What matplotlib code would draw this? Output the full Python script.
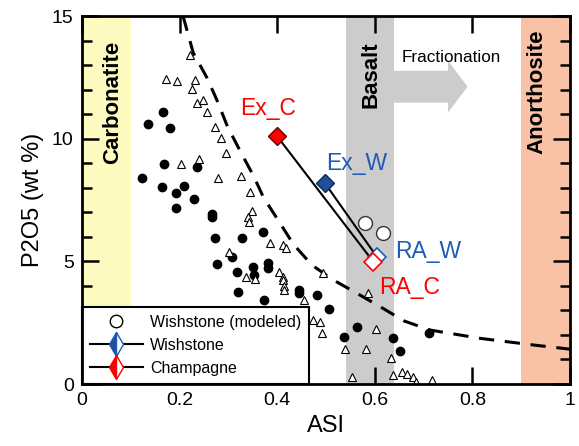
import numpy as np
import matplotlib
matplotlib.use('Agg')
from matplotlib import pyplot as plt
from matplotlib.lines import Line2D
import matplotlib.patches as mpatches

plt.rcParams['font.family'] = ['Liberation Sans', 'DejaVu Sans']

# literature data: filled dots and open triangles
dots_x = [0.167, 0.135, 0.180, 0.169, 0.236, 0.122, 0.163, 0.210, 0.192, 0.230,
          0.192, 0.267, 0.267, 0.273, 0.328, 0.370, 0.277, 0.307, 0.318, 0.351,
          0.353, 0.382, 0.382, 0.320, 0.372, 0.445, 0.445, 0.481, 0.506, 0.564,
          0.536, 0.638, 0.652, 0.710]
dots_y = [11.10, 10.58, 10.42, 8.97, 8.86, 8.40, 8.02, 8.07, 7.77, 7.53,
          7.19, 6.95, 6.80, 5.96, 5.94, 6.18, 4.89, 5.19, 4.58, 4.77,
          4.44, 4.92, 4.72, 3.76, 3.43, 3.83, 3.70, 3.63, 3.06, 2.32,
          1.90, 1.88, 1.33, 2.09]

tri_x = [0.221, 0.172, 0.194, 0.232, 0.226, 0.235, 0.247, 0.257, 0.273, 0.284,
         0.295, 0.203, 0.240, 0.278, 0.326, 0.344, 0.348, 0.341, 0.343, 0.302,
         0.385, 0.412, 0.419, 0.337, 0.354, 0.404, 0.412, 0.411, 0.414, 0.414,
         0.493, 0.455, 0.474, 0.488, 0.491, 0.587, 0.602, 0.539, 0.582, 0.633,
         0.553, 0.638, 0.656, 0.665, 0.679, 0.684, 0.717]
tri_y = [13.41, 12.43, 12.35, 12.39, 12.03, 11.47, 11.58, 11.10, 10.46, 10.04,
         9.40, 8.97, 9.16, 8.41, 8.48, 7.84, 7.04, 6.82, 6.62, 5.39,
         5.73, 5.67, 5.53, 4.37, 4.30, 4.58, 4.37, 4.22, 4.00, 3.83,
         4.51, 3.42, 2.61, 2.54, 2.06, 3.70, 2.24, 1.41, 1.43, 1.08,
         0.28, 0.37, 0.48, 0.40, 0.30, 0.07, 0.16]

# saturation curve (dashed)
curve_x = [0.207, 0.228, 0.257, 0.278, 0.298, 0.324, 0.351, 0.372, 0.406, 0.433,
           0.471, 0.515, 0.563, 0.611, 0.660, 0.713, 0.816, 0.925, 1.0]
curve_y = [15.0, 13.5, 12.45, 11.5, 10.5, 9.5, 8.5, 7.6, 6.55, 5.7,
           4.85, 4.24, 3.7, 3.15, 2.57, 2.2, 1.86, 1.59, 1.42]

# Wishstone (modeled)
model_x = [0.580, 0.617]
model_y = [6.58, 6.17]

# Ex -> RA pairs
wish_x = [0.498, 0.605]
wish_y = [8.18, 5.16]
champ_x = [0.399, 0.597]
champ_y = [10.12, 4.98]

blue = '#1d5cb4'
dblue = '#1f4e9c'
red = '#ff0000'

fig = plt.figure(figsize=(5.79, 4.46), dpi=100)
ax = fig.add_axes([0.1416, 0.139, 0.843, 0.825])

# composition bands
ax.axvspan(0.0, 0.1, color='#fdfbc0', lw=0, zorder=0)
ax.axvspan(0.54, 0.64, color='#cccccc', lw=0, zorder=0)
ax.axvspan(0.9, 1.0, color='#f9c1a6', lw=0, zorder=0)
ax.add_patch(mpatches.FancyArrow(0.62, 12.12, 0.17, 0, width=1.3, head_width=2.1,
                                 head_length=0.04, length_includes_head=True,
                                 color='#cccccc', lw=0, zorder=0))

ax.text(0.062, 11.5, 'Carbonatite', rotation=90, ha='center', va='center',
        fontsize=16, fontweight='bold')
ax.text(0.592, 12.6, 'Basalt', rotation=90, ha='center', va='center',
        fontsize=16, fontweight='bold')
ax.text(0.933, 11.9, 'Anorthosite', rotation=90, ha='center', va='center',
        fontsize=16, fontweight='bold')
ax.text(0.655, 13.31, 'Fractionation', ha='left', va='center', fontsize=12.3)

ax.plot(curve_x, curve_y, color='black', lw=2.2, ls=(0, (5, 3.5)), zorder=2)

ax.plot(dots_x, dots_y, ls='none', marker='o', ms=6, mfc='black', mec='black', zorder=3)
ax.plot(tri_x, tri_y, ls='none', marker='^', ms=5.5, mfc='white', mec='black',
        mew=0.8, zorder=3)

ax.plot(model_x, model_y, ls='none', marker='o', ms=10, mfc='white', mec='#333333',
        mew=1.0, zorder=4)

ax.plot(wish_x, wish_y, color='black', lw=1.5, zorder=4)
ax.plot(champ_x, champ_y, color='black', lw=1.5, zorder=4)
ax.plot(wish_x[0], wish_y[0], ls='none', marker='D', ms=9, mfc=dblue, mec='#0d2a5a',
        mew=1, zorder=5)
ax.plot(wish_x[1], wish_y[1], ls='none', marker='D', ms=9, mfc='white', mec=blue,
        mew=1.2, zorder=5)
ax.plot(champ_x[0], champ_y[0], ls='none', marker='D', ms=9, mfc=red, mec='#6a0000',
        mew=1, zorder=5)
ax.plot(champ_x[1], champ_y[1], ls='none', marker='D', ms=9, mfc='white', mec=red,
        mew=1.2, zorder=6)

ax.text(0.381, 11.25, 'Ex_C', color=red, fontsize=16.5, ha='center', va='center')
ax.text(0.5625, 9.0, 'Ex_W', color=blue, fontsize=16.5, ha='center', va='center')
ax.text(0.710, 5.39, 'RA_W', color=blue, fontsize=16.5, ha='center', va='center')
ax.text(0.671, 3.95, 'RA_C', color=red, fontsize=16.5, ha='center', va='center')

handles = [
    Line2D([], [], ls='none', marker='o', ms=9, mfc='white', mec='black'),
    Line2D([], [], color='black', lw=1.5, marker='d', ms=12, mfc=dblue,
           mfcalt='white', fillstyle='left', mec=blue),
    Line2D([], [], color='black', lw=1.5, marker='d', ms=12, mfc=red,
           mfcalt='white', fillstyle='left', mec=red),
]
leg = ax.legend(handles, ['Wishstone (modeled)', 'Wishstone', 'Champagne'],
                loc='lower left', bbox_to_anchor=(0, 0), borderaxespad=0,
                fancybox=False, framealpha=1, edgecolor='black',
                handlelength=3.3, labelspacing=0.5, handletextpad=0.45,
                borderpad=0.5, prop={'size': 11.5})
leg.get_frame().set_linewidth(1.5)
leg.set_zorder(7)

ax.set_xlim(0, 1)
ax.set_ylim(0, 15)
ax.set_xticks([0, 0.2, 0.4, 0.6, 0.8, 1.0])
ax.set_xticklabels(['0', '0.2', '0.4', '0.6', '0.8', '1'])
ax.set_yticks([0, 5, 10, 15])
ax.set_yticks(np.arange(0, 16, 1), minor=True)
ax.tick_params(which='both', direction='in', top=True, right=True, width=1.8,
               labelsize=14)
ax.tick_params(which='major', length=12, pad=6)
ax.tick_params(which='minor', length=7)
for s in ax.spines.values():
    s.set_linewidth(2)
    s.set_zorder(8)

ax.set_xlabel('ASI', fontsize=17, labelpad=4)
ax.set_ylabel('P2O5 (wt %)', fontsize=17, labelpad=6)

fig.savefig('out.png', dpi=100)
